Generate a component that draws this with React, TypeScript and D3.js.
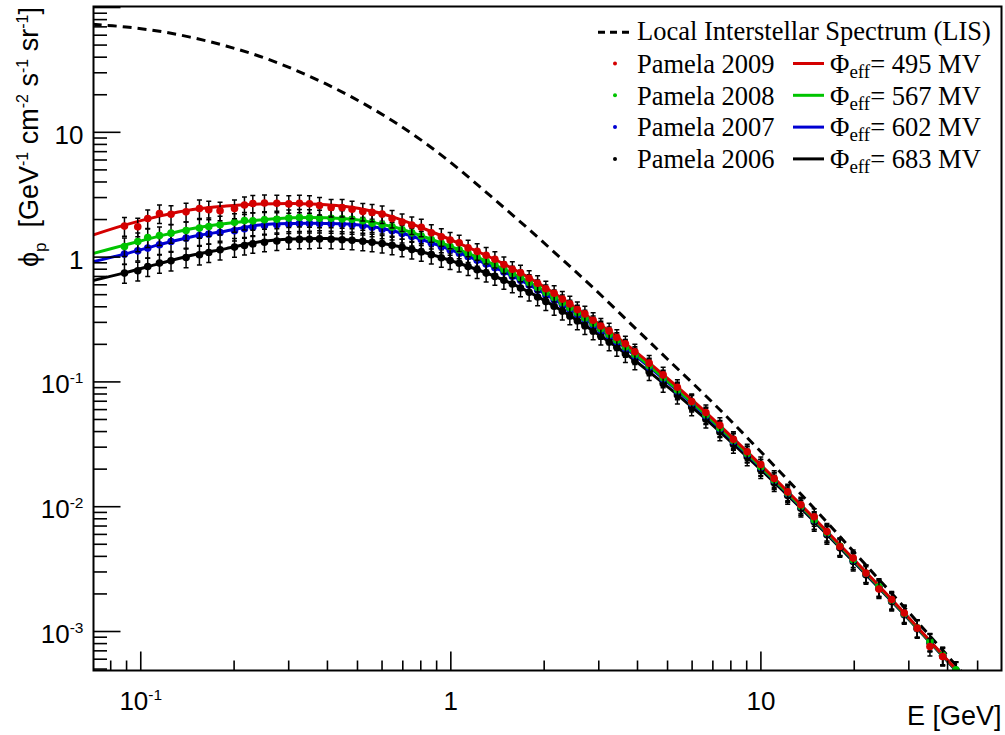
import React, { useEffect, useRef } from 'react';
import * as d3 from 'd3';

// kinetic energy bins (GeV), same for the four Pamela data sets
const energies = [
  0.0886, 0.0978, 0.1053, 0.1149, 0.1252, 0.14, 0.1546, 0.1657, 0.1802, 0.2006,
  0.216, 0.2298, 0.2506, 0.2747, 0.3002, 0.3249, 0.35, 0.3772, 0.4111, 0.4461,
  0.4803, 0.5201, 0.5573, 0.6004, 0.6465, 0.6963, 0.7485, 0.8031, 0.8652, 0.9319,
  0.9948, 1.064, 1.137, 1.216, 1.3, 1.387, 1.483, 1.579, 1.678, 1.789,
  1.905, 2.025, 2.154, 2.289, 2.42, 2.559, 2.706, 2.877, 3.047, 3.24,
  3.431, 3.656, 3.923, 4.362, 4.839, 5.379, 5.981, 6.647, 7.375, 8.154,
  9.034, 9.99, 11.04, 12.2, 13.46, 14.86, 16.33, 17.98, 19.85, 21.82,
  24.03, 26.41, 29.0, 31.93, 35.09, 38.57, 42.56,
];

const flux2009 = [
  1.772, 1.752, 2.038, 2.235, 2.204, 2.306, 2.451, 2.398, 2.354, 2.447,
  2.615, 2.688, 2.714, 2.698, 2.669, 2.698, 2.679, 2.591, 2.501, 2.493,
  2.42, 2.315, 2.281, 2.211, 2.035, 1.911, 1.808, 1.736, 1.569, 1.457,
  1.371, 1.302, 1.185, 1.111, 1.036, 0.9602, 0.8708, 0.7984, 0.7482, 0.6766,
  0.6177, 0.5571, 0.5137, 0.4608, 0.4217, 0.3796, 0.3506, 0.3116, 0.2805, 0.2562,
  0.2272, 0.202, 0.1743, 0.1414, 0.1138, 0.09068, 0.06966, 0.05686, 0.0449, 0.03467,
  0.02758, 0.02178, 0.01685, 0.01314, 0.01036, 0.008299, 0.006316, 0.004798, 0.003874, 0.002937,
  0.002186, 0.001805, 0.001407, 0.001064, 0.0007582, 0.0006304, null,
];

const flux2008 = [
  1.216, 1.333, 1.436, 1.49, 1.556, 1.633, 1.708, 1.759, 1.815, 1.905,
  1.965, 1.953, 1.994, 2.012, 2.054, 2.076, 2.063, 2.048, 2.049, 2.024,
  2.009, 1.956, 1.872, 1.822, 1.746, 1.656, 1.564, 1.476, 1.385, 1.293,
  1.216, 1.144, 1.066, 0.9951, 0.9272, 0.8637, 0.7959, 0.7362, 0.6826, 0.6267,
  0.5706, 0.5204, 0.4737, 0.4315, 0.3928, 0.3576, 0.3256, 0.2937, 0.2662, 0.2396,
  0.2155, 0.1904, 0.166, 0.1348, 0.108, 0.08632, 0.06877, 0.05447, 0.04275, 0.03385,
  0.02666, 0.02091, 0.01637, 0.01287, 0.01011, 0.007864, 0.006185, 0.004837, 0.003756, 0.002932,
  0.00228, 0.00178, 0.001389, 0.001069, 0.0008301, 0.0006442, 0.0004925,
];

const flux2007 = [
  1.057, 1.123, 1.181, 1.255, 1.334, 1.42, 1.49, 1.529, 1.574, 1.625,
  1.686, 1.743, 1.788, 1.814, 1.842, 1.859, 1.857, 1.859, 1.848, 1.832,
  1.815, 1.787, 1.736, 1.673, 1.629, 1.543, 1.461, 1.381, 1.3, 1.216,
  1.147, 1.083, 1.01, 0.9445, 0.8813, 0.8216, 0.7583, 0.7017, 0.6515, 0.599,
  0.5459, 0.4997, 0.4561, 0.4163, 0.3796, 0.3461, 0.3159, 0.2857, 0.259, 0.233,
  0.2098, 0.1856, 0.162, 0.1319, 0.1058, 0.0847, 0.06758, 0.0536, 0.04211, 0.03338,
  0.02632, 0.02067, 0.01619, 0.01274, 0.01002, 0.007797, 0.006135, 0.0048, 0.003728, 0.002912,
  0.002265, 0.00177, 0.001382, 0.001064, 0.0008265, 0.0006416, 0.0004909,
];

const flux2006 = [
  0.7446, 0.7765, 0.8407, 0.8952, 0.9343, 0.9922, 1.0435, 1.0885, 1.144, 1.2025,
  1.2387, 1.2757, 1.3166, 1.3456, 1.3737, 1.386, 1.391, 1.399, 1.391, 1.376,
  1.363, 1.341, 1.314, 1.283, 1.245, 1.196, 1.149, 1.1006, 1.0464, 0.9874,
  0.9374, 0.8919, 0.8392, 0.7911, 0.7445, 0.7003, 0.6517, 0.6087, 0.5653, 0.5225,
  0.4788, 0.4399, 0.4034, 0.3693, 0.338, 0.3087, 0.2822, 0.2557, 0.2324, 0.2095,
  0.1893, 0.168, 0.1474, 0.1207, 0.09729, 0.07837, 0.06295, 0.0502, 0.03968, 0.03161,
  0.0251, 0.01979, 0.01556, 0.01229, 0.009713, 0.007572, 0.005968, 0.00468, 0.003642, 0.002852,
  0.002224, 0.001741, 0.001362, 0.001051, 0.0008171, 0.0006352, 0.0004865,
];

// relative error of each bin
const relErr = [
  0.17, 0.17, 0.17, 0.17, 0.17, 0.17, 0.17, 0.17, 0.17, 0.17,
  0.16, 0.16, 0.16, 0.16, 0.16, 0.16, 0.16, 0.16, 0.16, 0.16,
  0.16, 0.16, 0.16, 0.16, 0.16, 0.16, 0.16, 0.16, 0.16, 0.16,
  0.15, 0.15, 0.15, 0.15, 0.15, 0.15, 0.15, 0.15, 0.15, 0.15,
  0.15, 0.15, 0.15, 0.15, 0.15, 0.15, 0.15, 0.15, 0.15, 0.15,
  0.15, 0.15, 0.15, 0.15, 0.15, 0.15, 0.15, 0.15, 0.15, 0.15,
  0.15, 0.15, 0.15, 0.15, 0.15, 0.16, 0.16, 0.16, 0.16, 0.16,
  0.16, 0.16, 0.16, 0.16, 0.16, 0.16, 0.16,
];

// force field fits, sampled along the energy axis
const fitEnergies = [
  0.07, 0.0886, 0.1149, 0.1472, 0.1884, 0.2415, 0.3092, 0.396, 0.5075, 0.65,
  0.8324, 1.067, 1.366, 1.75, 2.242, 2.872, 3.331, 4.385, 6.357, 9.215,
  13.36, 19.37, 28.08, 40.71, 59.45,
];
const fit495 = [
  1.501, 1.805, 2.131, 2.407, 2.563, 2.659, 2.689, 2.625, 2.452, 2.103,
  1.664, 1.285, 0.9745, 0.7044, 0.4807, 0.3146, 0.2428, 0.1409, 0.06317, 0.02629,
  0.01055, 0.004079, 0.001535, 0.0005613, 0.0001998,
];
const fit567 = [
  1.069, 1.248, 1.474, 1.695, 1.859, 1.979, 2.065, 2.065, 1.979, 1.749,
  1.436, 1.14, 0.8803, 0.648, 0.4465, 0.2948, 0.2285, 0.1334, 0.06043, 0.02543,
  0.0103, 0.004005, 0.001515, 0.0005561, 0.0001987,
];
const fit602 = [
  0.917, 1.057, 1.259, 1.463, 1.621, 1.805, 1.859, 1.859, 1.805, 1.624,
  1.346, 1.079, 0.8377, 0.6188, 0.4303, 0.2868, 0.2223, 0.1304, 0.05943, 0.02511,
  0.01021, 0.003976, 0.001506, 0.000554, 0.0001983,
];
const fit683 = [
  0.6483, 0.7473, 0.8871, 1.0396, 1.17, 1.326, 1.394, 1.41, 1.351, 1.243,
  1.0786, 0.8884, 0.7122, 0.5391, 0.3817, 0.2568, 0.2, 0.1193, 0.05551, 0.02397,
  0.009891, 0.003881, 0.001485, 0.000549, 0.0001969,
];

// local interstellar spectrum
const lisEnergies = [
  0.07, 0.0897, 0.1149, 0.1472, 0.1884, 0.2415, 0.3092, 0.396, 0.5075, 0.65,
  0.8324, 1.067, 1.366, 1.75, 2.242, 2.872, 4, 5, 7, 10,
  15, 20, 30, 40, 50, 60,
];
const lisFlux = [
  73.4, 69.8, 64.5, 57.3, 49.2, 40.7, 32.2, 24.4, 17.73, 12.32,
  8.11, 5.02, 2.977, 1.744, 1.002, 0.5706, 0.2591, 0.152, 0.068, 0.02754,
  0.009445, 0.004311, 0.001425, 0.000639, 0.000341, 0.000207,
];

const xTickLabels = [
  { v: 0.1, base: '10', sup: '-1' },
  { v: 1, base: '1', sup: '' },
  { v: 10, base: '10', sup: '' },
];
const yTickLabels = [
  { v: 10, base: '10', sup: '' },
  { v: 1, base: '1', sup: '' },
  { v: 0.1, base: '10', sup: '-1' },
  { v: 0.01, base: '10', sup: '-2' },
  { v: 0.001, base: '10', sup: '-3' },
];

// drawn from 2006 up to 2009 (2009 ends on top)
const dataSets = [
  { year: '2006', phi: '683', color: '#000000', flux: flux2006, fit: fit683 },
  { year: '2007', phi: '602', color: '#0000d2', flux: flux2007, fit: fit602 },
  { year: '2008', phi: '567', color: '#00c400', flux: flux2008, fit: fit567 },
  { year: '2009', phi: '495', color: '#d40000', flux: flux2009, fit: fit495 },
];

const SANS = "'Liberation Sans', Arial, Helvetica, sans-serif";
const SERIF = "'Liberation Serif', 'Times New Roman', Times, serif";

const App = () => {
  const ref = useRef<SVGSVGElement>(null);

  useEffect(() => {
    const svg = d3.select(ref.current);
    svg.selectAll('*').remove();

    const L = 93.5, R = 1001.5, T = 6.5, B = 670.5;

    const x = d3.scaleLog().domain([0.0704, 59.7]).range([L, R]);
    const y = d3.scaleLog().domain([4.87e-4, 101.9]).range([B, T]);

    svg.append('rect').attr('width', 1005).attr('height', 735).attr('fill', '#fff');

    svg.append('defs').append('clipPath').attr('id', 'plotArea')
      .append('rect').attr('x', L).attr('y', T).attr('width', R - L).attr('height', B - T);

    const plot = svg.append('g').attr('clip-path', 'url(#plotArea)');

    const line = d3.line<[number, number]>()
      .x(d => x(d[0]))
      .y(d => y(d[1]))
      .curve(d3.curveCatmullRom.alpha(0.5));

    // LIS
    plot.append('path')
      .datum(lisEnergies.map((e, i) => [e, lisFlux[i]] as [number, number]))
      .attr('d', line)
      .attr('fill', 'none')
      .attr('stroke', '#000')
      .attr('stroke-width', 3)
      .attr('stroke-dasharray', '9,6');

    // fits
    dataSets.forEach(s => {
      plot.append('path')
        .datum(fitEnergies.map((e, i) => [e, s.fit[i]] as [number, number]))
        .attr('d', line)
        .attr('fill', 'none')
        .attr('stroke', s.color)
        .attr('stroke-width', 3);
    });

    // data points with error bars
    dataSets.forEach(s => {
      const pts = energies
        .map((e, i) => ({ e, v: s.flux[i] as number | null, err: relErr[i] }))
        .filter(p => p.v != null) as { e: number; v: number; err: number }[];

      let dPath = '';
      pts.forEach(p => {
        const px = x(p.e);
        const y1 = y(p.v * (1 + p.err));
        const y2 = y(p.v * (1 - p.err));
        dPath += `M${px},${y1}L${px},${y2}M${px - 2.5},${y1}L${px + 2.5},${y1}M${px - 2.5},${y2}L${px + 2.5},${y2}`;
      });
      plot.append('path').attr('d', dPath).attr('stroke', '#000').attr('stroke-width', 1.5).attr('fill', 'none');

      plot.append('g').selectAll('circle')
        .data(pts)
        .enter().append('circle')
        .attr('cx', d => x(d.e))
        .attr('cy', d => y(d.v))
        .attr('r', 3.8)
        .attr('fill', s.color);
    });

    // frame
    svg.append('rect')
      .attr('x', L).attr('y', T).attr('width', R - L).attr('height', B - T)
      .attr('fill', 'none').attr('stroke', '#000').attr('stroke-width', 2);

    // ticks
    const ticks = svg.append('g').attr('stroke', '#000').attr('stroke-width', 1.6);
    const [yMin, yMax] = y.domain();
    for (let d = -4; d <= 2; d++) {
      for (let k = 1; k <= 9; k++) {
        const v = k * Math.pow(10, d);
        if (v < yMin || v > yMax) continue;
        const len = k === 1 ? 27 : 13.5;
        ticks.append('line').attr('x1', L).attr('x2', L + len).attr('y1', y(v)).attr('y2', y(v));
      }
    }
    const [xMin, xMax] = x.domain();
    for (let d = -2; d <= 1; d++) {
      for (let k = 1; k <= 9; k++) {
        const v = k * Math.pow(10, d);
        if (v < xMin || v > xMax) continue;
        const len = k === 1 ? 19 : 10;
        ticks.append('line').attr('x1', x(v)).attr('x2', x(v)).attr('y1', B).attr('y2', B - len);
      }
    }

    // tick labels
    const addPowerLabel = (g: any, base: string, sup: string) => {
      g.append('tspan').text(base);
      if (sup) g.append('tspan').attr('font-size', 15.5).attr('dy', -10).text(sup);
    };
    xTickLabels.forEach(t => {
      const g = svg.append('text')
        .attr('x', x(t.v)).attr('y', 709.5)
        .attr('text-anchor', 'middle')
        .attr('font-family', SANS).attr('font-size', 26);
      addPowerLabel(g, t.base, t.sup);
    });
    yTickLabels.forEach(t => {
      const g = svg.append('text')
        .attr('x', 83.5).attr('y', y(t.v) + 11.5)
        .attr('text-anchor', 'end')
        .attr('font-family', SANS).attr('font-size', 26);
      addPowerLabel(g, t.base, t.sup);
    });

    // axis titles
    svg.append('text')
      .attr('x', R).attr('y', 725)
      .attr('text-anchor', 'end')
      .attr('font-family', SANS).attr('font-size', 27)
      .text('E [GeV]');

    const yt = svg.append('text')
      .attr('transform', 'translate(37.5,7) rotate(-90)')
      .attr('text-anchor', 'end')
      .attr('font-family', SANS).attr('font-size', 27);
    yt.append('tspan').text('\u03d5');
    yt.append('tspan').attr('font-size', 17).attr('dy', 8).text('p');
    const unitParts: [string, string][] = [['\u00a0\u00a0[GeV', '-1'], [' cm', '-2'], [' s', '-1'], [' sr', '-1']];
    let shift = -8;
    unitParts.forEach(([txt, sup]) => {
      yt.append('tspan').attr('dy', shift).text(txt);
      yt.append('tspan').attr('font-size', 16).attr('dy', -10).text(sup);
      shift = 10;
    });
    yt.append('tspan').attr('dy', 10).text(']');

    // legend
    const leg = svg.append('g').attr('font-family', SERIF).attr('font-size', 26.5);
    leg.append('line')
      .attr('x1', 598).attr('x2', 631).attr('y1', 32.3).attr('y2', 32.3)
      .attr('stroke', '#000').attr('stroke-width', 3).attr('stroke-dasharray', '7,5');
    leg.append('text').attr('x', 637).attr('y', 39.5).text('Local Interstellar Spectrum (LIS)');

    [...dataSets].reverse().forEach((s, i) => {
      const cy = 63.5 + i * 31.8;
      const base = 72.7 + i * 31.8;
      leg.append('circle').attr('cx', 615).attr('cy', cy).attr('r', 2).attr('fill', s.color);
      leg.append('text').attr('x', 637).attr('y', base).text(`Pamela ${s.year}`);
      leg.append('line')
        .attr('x1', 793).attr('x2', 824).attr('y1', cy).attr('y2', cy)
        .attr('stroke', s.color).attr('stroke-width', 3);
      const t = leg.append('text').attr('x', 830).attr('y', base);
      t.append('tspan').text('\u03a6');
      t.append('tspan').attr('font-size', 19).attr('dy', 5).text('eff');
      t.append('tspan').attr('dy', -5).text(`= ${s.phi} MV`);
    });
  }, []);

  return (
    <svg
      ref={ref}
      width={1005}
      height={735}
      style={{ position: 'absolute', left: 0, top: 0, display: 'block' }}
    />
  );
};

export default App;
